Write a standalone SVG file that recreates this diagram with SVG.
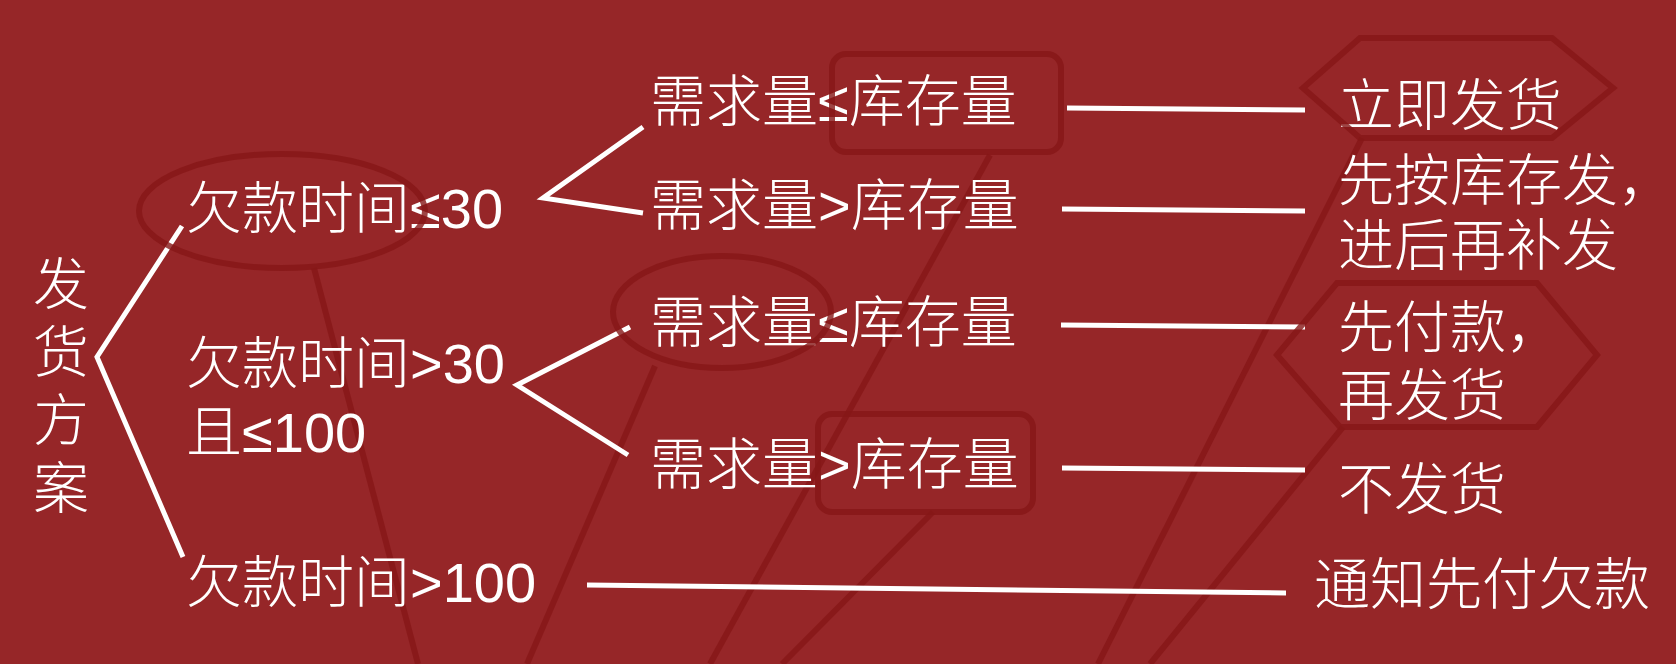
<svg xmlns="http://www.w3.org/2000/svg" width="1676" height="664" viewBox="0 0 1676 664">
  <style>
    .t { font-family: "Liberation Sans", "Noto Sans CJK SC", sans-serif; font-size: 56px; fill: #ffffff; font-weight: 300; }
    .v { text-anchor: middle; }
    .c { fill: none; stroke: #ffffff; stroke-width: 5; stroke-linecap: butt; stroke-linejoin: miter; }
    .a { fill: none; stroke: #861616; stroke-opacity: 0.8; stroke-width: 6; }
  </style>
  <rect x="0" y="0" width="1676" height="664" fill="#962628"/>

  <g id="annotation-tails">
    <line class="a" x1="314" y1="268" x2="418" y2="664"/>
    <line class="a" x1="990" y1="155" x2="710" y2="664"/>
    <line class="a" x1="655" y1="366" x2="527" y2="664"/>
    <line class="a" x1="933" y1="512" x2="782" y2="664"/>
    <line class="a" x1="1362" y1="138" x2="1098" y2="664"/>
    <line class="a" x1="1343" y1="427" x2="1150" y2="664"/>
  </g>

  <g id="connectors">
    <polyline class="c" points="182,226 97,357 183,557"/>
    <polyline class="c" points="643,127 543,198 643,213"/>
    <polyline class="c" points="630,327 517,385 628,455"/>
    <line class="c" x1="1067" y1="108" x2="1305" y2="110"/>
    <line class="c" x1="1062" y1="209" x2="1305" y2="211"/>
    <line class="c" x1="1061" y1="325" x2="1305" y2="327"/>
    <line class="c" x1="1062" y1="468" x2="1305" y2="470"/>
    <line class="c" x1="587" y1="585" x2="1286" y2="593"/>
  </g>

  <g id="root">
    <text class="t v" x="61" y="304">发</text>
    <text class="t v" x="61" y="372">货</text>
    <text class="t v" x="61" y="440">方</text>
    <text class="t v" x="61" y="508">案</text>
  </g>

  <g id="cond1"><text class="t" x="186" y="228">欠款时间≤30</text></g>
  <g id="cond2">
    <text class="t" x="186" y="383">欠款时间&gt;30</text>
    <text class="t" x="186" y="452">且≤100</text>
  </g>
  <g id="cond3"><text class="t" x="186" y="602">欠款时间&gt;100</text></g>

  <g id="demand1"><text class="t" x="650" y="121">需求量≤库存量</text></g>
  <g id="demand2"><text class="t" x="650" y="225">需求量&gt;库存量</text></g>
  <g id="demand3"><text class="t" x="650" y="342">需求量≤库存量</text></g>
  <g id="demand4"><text class="t" x="650" y="484">需求量&gt;库存量</text></g>

  <g id="out1"><text class="t" x="1338" y="125">立即发货</text></g>
  <g id="out2">
    <text class="t" x="1338" y="200">先按库存发，</text>
    <text class="t" x="1338" y="265">进后再补发</text>
  </g>
  <g id="out3">
    <text class="t" x="1338" y="347">先付款，</text>
    <text class="t" x="1338" y="415">再发货</text>
  </g>
  <g id="out4"><text class="t" x="1338" y="509">不发货</text></g>
  <g id="out5"><text class="t" x="1314" y="604">通知先付欠款</text></g>

  <g id="annotation-shapes">
    <ellipse class="a" cx="282" cy="211" rx="143" ry="57"/>
    <rect class="a" x="832" y="54" width="229" height="98" rx="14"/>
    <ellipse class="a" cx="722" cy="312" rx="109" ry="56"/>
    <rect class="a" x="818" y="414" width="215" height="98" rx="14"/>
    <polygon class="a" points="1303,88 1360,38 1552,38 1613,88 1552,138 1360,138"/>
    <polygon class="a" points="1277,355 1337,283 1537,283 1597,355 1537,427 1340,427"/>
  </g>
</svg>
